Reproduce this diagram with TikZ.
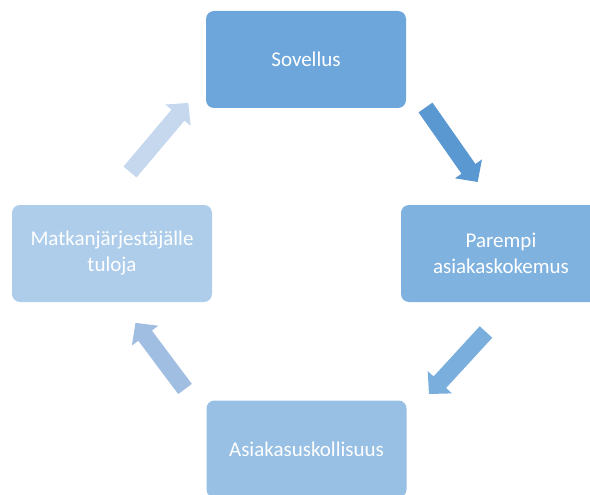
\documentclass[tikz,border=0pt]{standalone}
\usepackage{fontspec}
\setmainfont{Carlito}
\usetikzlibrary{calc}
\definecolor{cA}{HTML}{6DA6DB}
\definecolor{cB}{HTML}{7FB2DF}
\definecolor{cC}{HTML}{98BFE4}
\definecolor{cD}{HTML}{AECDEA}
\definecolor{aA}{HTML}{5A98D2}
\definecolor{aB}{HTML}{7AAEDD}
\definecolor{aC}{HTML}{A0BEE2}
\definecolor{aD}{HTML}{C5D8EE}
\tikzset{
  cyclebox/.style={rounded corners=8pt, minimum width=200pt, minimum height=97pt,
    inner sep=0pt, text=white, align=center, font=\fontsize{21}{26}\selectfont},
}
\newcommand\blockarrow[3]{%
  \fill[#1] let \p1=($(#3)-(#2)$), \n1={atan2(\y1,\x1)}, \n2={veclen(\x1,\y1)} in
    [shift={(#2)}, rotate=\n1]
    (0,-8.5) -- (\n2-16,-8.5) -- (\n2-16,-16.5) -- (\n2,0) -- (\n2-16,16.5)
    -- (\n2-16,8.5) -- (0,8.5) -- cycle;%
}
\begin{document}
\begin{tikzpicture}[x=1pt,y=-1pt]
\useasboundingbox (0,0) rectangle (590,495);
\clip (0,0) rectangle (590,495);
\node[cyclebox, fill=cA] (sov) at (306,59.5) {Sovellus};
\node[cyclebox, fill=cB] (par) at (501,253.5) {Parempi\\asiakaskokemus};
\node[cyclebox, fill=cC] (asi) at (306.5,449) {Asiakasuskollisuus};
\node[cyclebox, fill=cD] (mat) at (112,253.5) {Matkanjärjestäjälle\\tuloja};
\coordinate (t1) at (425.5,107.5); \coordinate (h1) at (477.7,182);
\coordinate (t2) at (486,332);     \coordinate (h2) at (429,394);
\coordinate (t3) at (185,389);     \coordinate (h3) at (135.4,322.7);
\coordinate (t4) at (130,172);     \coordinate (h4) at (188.4,102.8);
\blockarrow{aA}{t1}{h1}
\blockarrow{aB}{t2}{h2}
\blockarrow{aC}{t3}{h3}
\blockarrow{aD}{t4}{h4}
\end{tikzpicture}
\end{document}
